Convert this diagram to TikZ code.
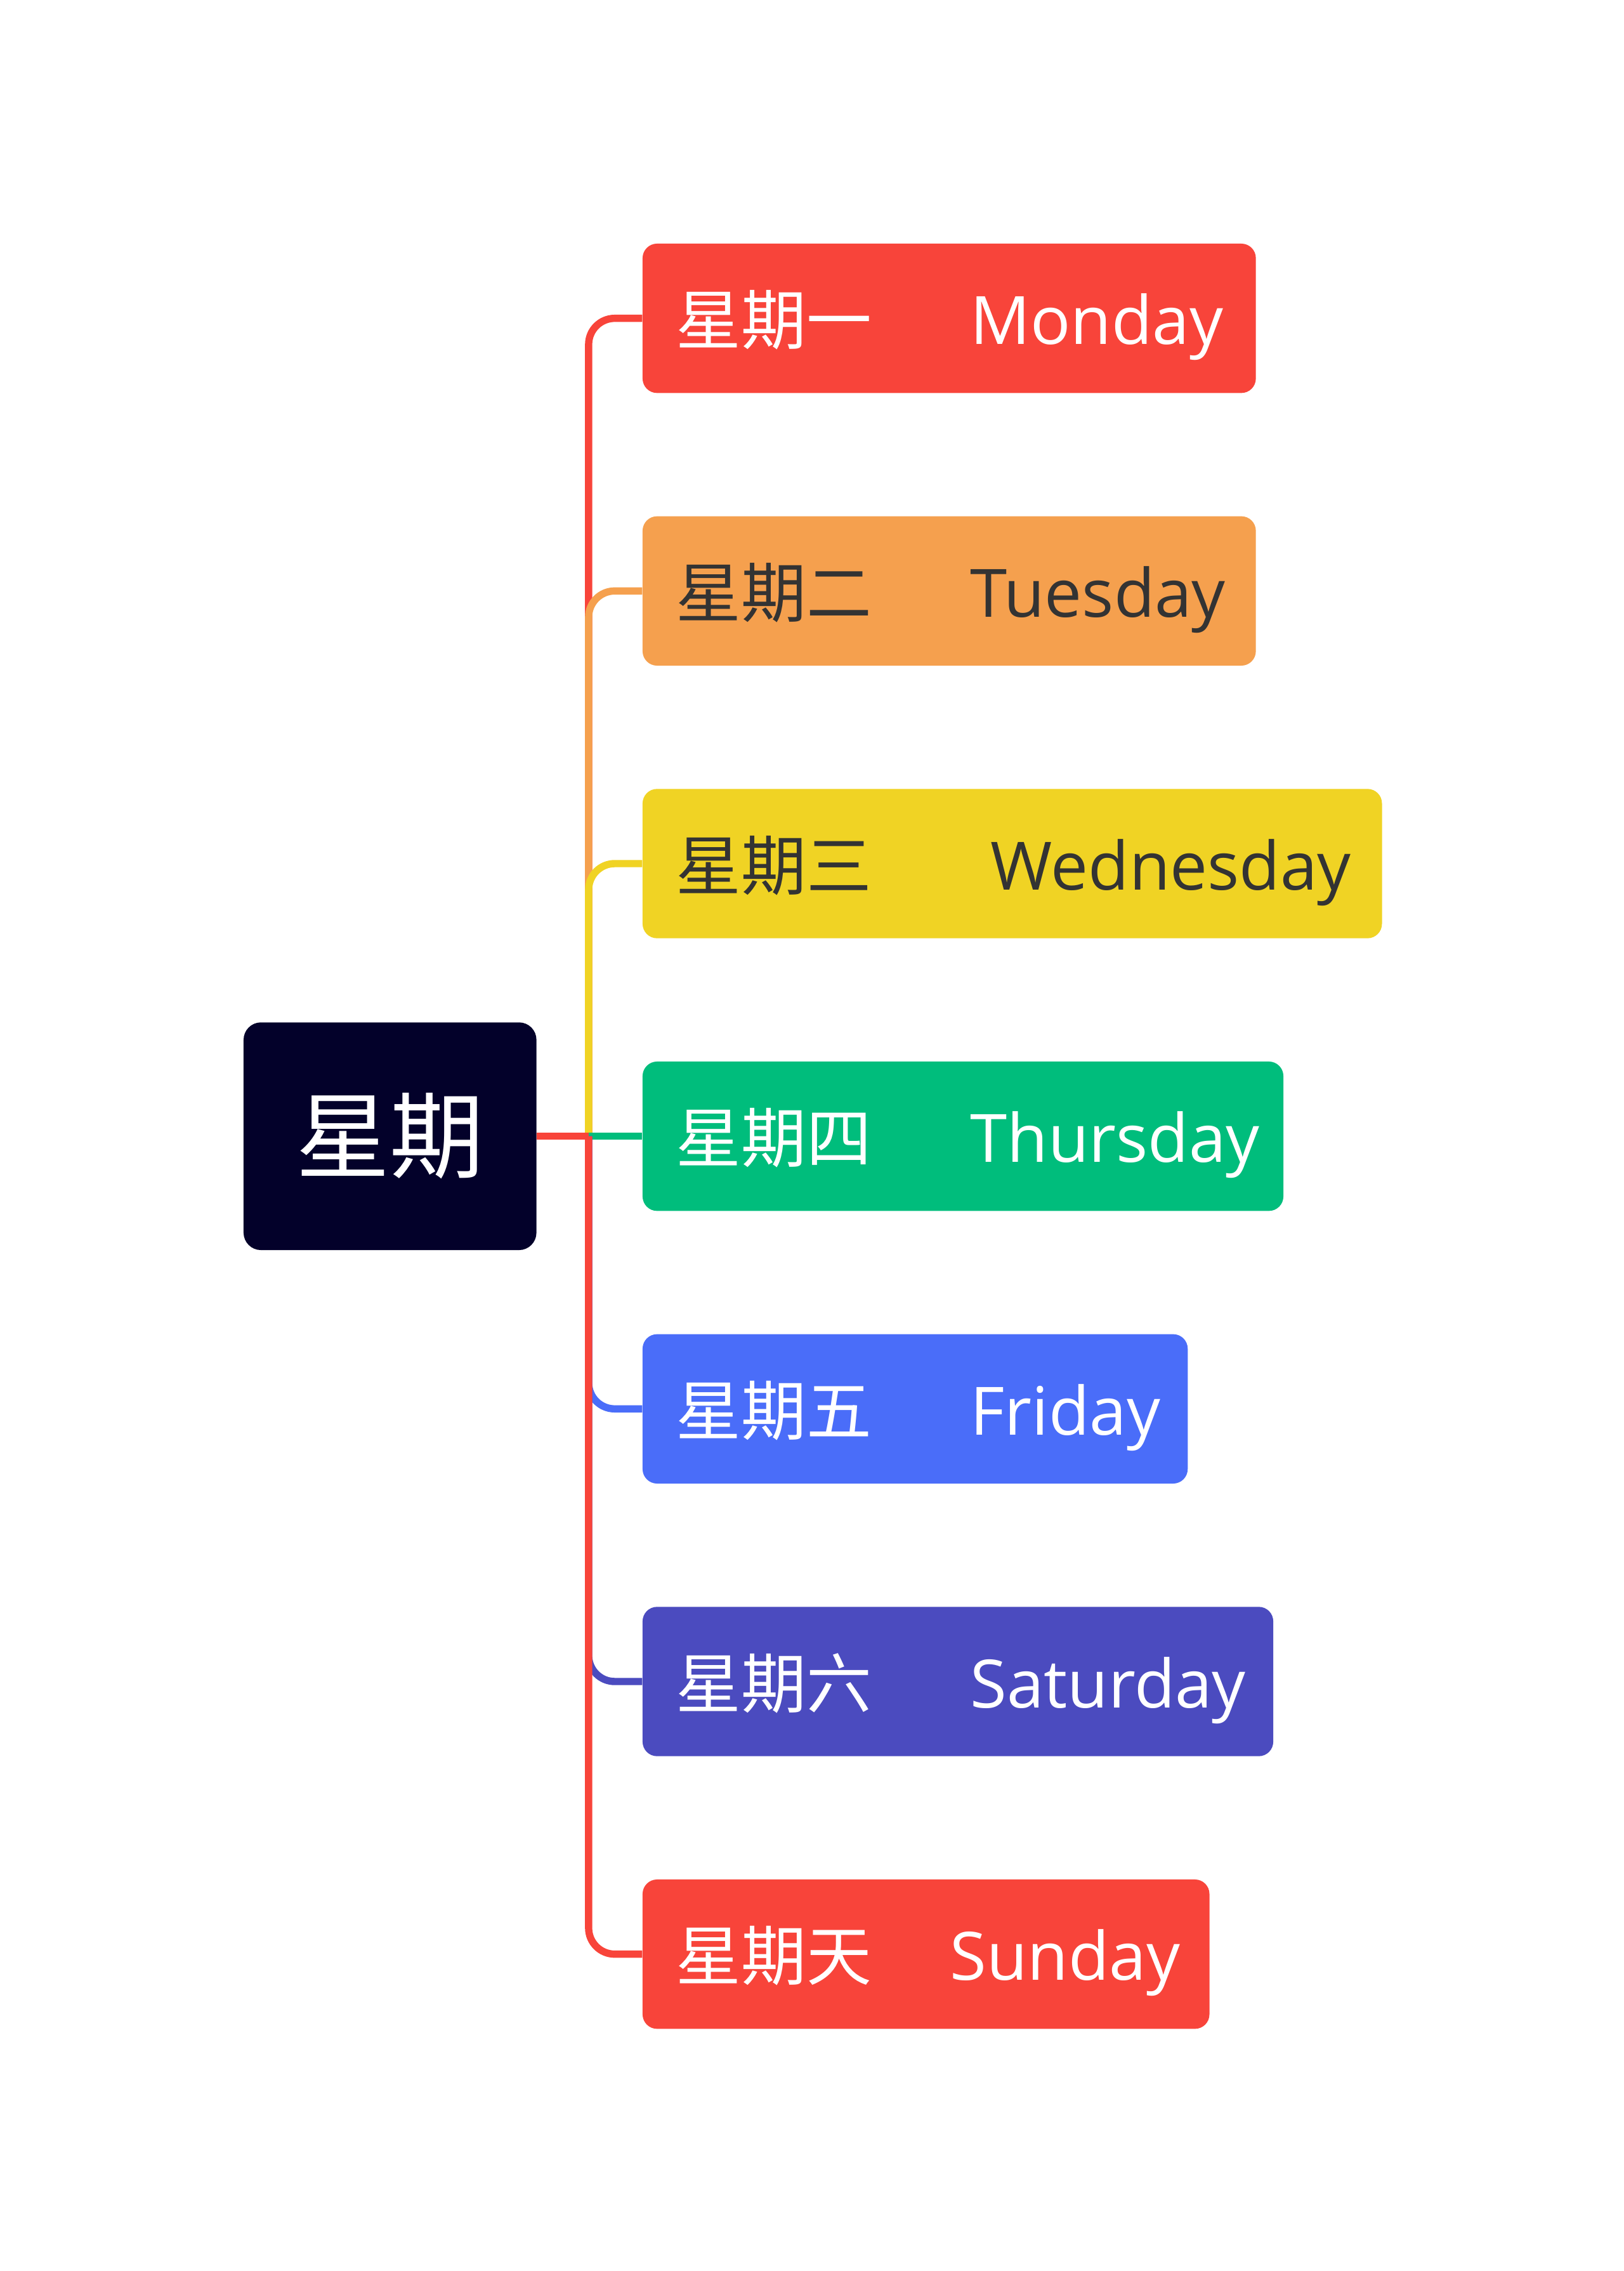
\documentclass[tikz,border=0pt]{standalone}
\usepackage{fontspec}
\newfontfamily\cnfont{Noto Sans CJK SC}
\newfontfamily\enfont{Open Sans}
\definecolor{weekdark}{HTML}{03012A}
\definecolor{monred}{HTML}{F8443A}
\definecolor{tueorange}{HTML}{F5A04E}
\definecolor{wedyellow}{HTML}{F0D324}
\definecolor{thugreen}{HTML}{00BD7C}
\definecolor{friblue}{HTML}{4A6DF9}
\definecolor{satpurple}{HTML}{4B4BBF}
\definecolor{darktext}{HTML}{333333}
\newcommand{\daytext}[3]{\mbox{{\cnfont #1}\hspace{#2}{\enfont\fontsize{46}{54}\selectfont #3}}}

\begin{document}
\begin{tikzpicture}[x=1pt, y=-1pt, branch/.style={line width=5pt, rounded corners=18pt}]
                \useasboundingbox (0,0) rectangle (1120,1566);
                \node[fill=weekdark, rounded corners=12pt, minimum width=202pt, minimum height=157pt, text=white, font=\cnfont\fontsize{65}{78}\selectfont] (week) at (269,783.5) {星期};
                \coordinate (trunk) at (406,783.5);
                \begin{scope}[every node/.style={rounded corners=10pt, minimum height=103pt, inner xsep=23pt, inner ysep=0pt, text height=42pt, text depth=6pt, anchor=west, align=left, text=white, font=\fontsize{45}{54}\selectfont}]
                \node[fill=monred, text width=377pt] (mon) at (443,219.5) {\daytext{星期一}{68pt}{Monday}};
                \node[fill=tueorange, text=darktext, text width=377pt] (tue) at (443,407.5) {\daytext{星期二}{68pt}{Tuesday}};
                \node[fill=wedyellow, text=darktext, text width=464pt] (wed) at (443,595.5) {\daytext{星期三}{82pt}{Wednesday}};
                \node[fill=thugreen, text width=396pt] (thu) at (443,783.5) {\daytext{星期四}{68pt}{Thursday}};
                \node[fill=friblue, text width=330pt] (fri) at (443,971.5) {\daytext{星期五}{68pt}{Friday}};
                \node[fill=satpurple, text width=389pt] (sat) at (443,1159.5) {\daytext{星期六}{68pt}{Saturday}};
                \node[fill=monred, text width=345pt] (sun) at (443,1347.5) {\daytext{星期天}{54pt}{Sunday}};
                \end{scope}
                \begin{scope}[every path/.style={branch}]
                \draw[monred] (trunk) |- (mon.west);
                \draw[tueorange] (trunk) |- (tue.west);
                \draw[wedyellow] (trunk) |- (wed.west);
                \draw[thugreen] (trunk) -- (thu.west);
                \draw[friblue] (trunk) |- (fri.west);
                \draw[satpurple] (trunk) |- (sat.west);
                \draw[monred] (trunk) |- (sun.west);
                \draw[monred] (week.east) -- (trunk);
                \end{scope}
                \end{tikzpicture}
\end{document}
